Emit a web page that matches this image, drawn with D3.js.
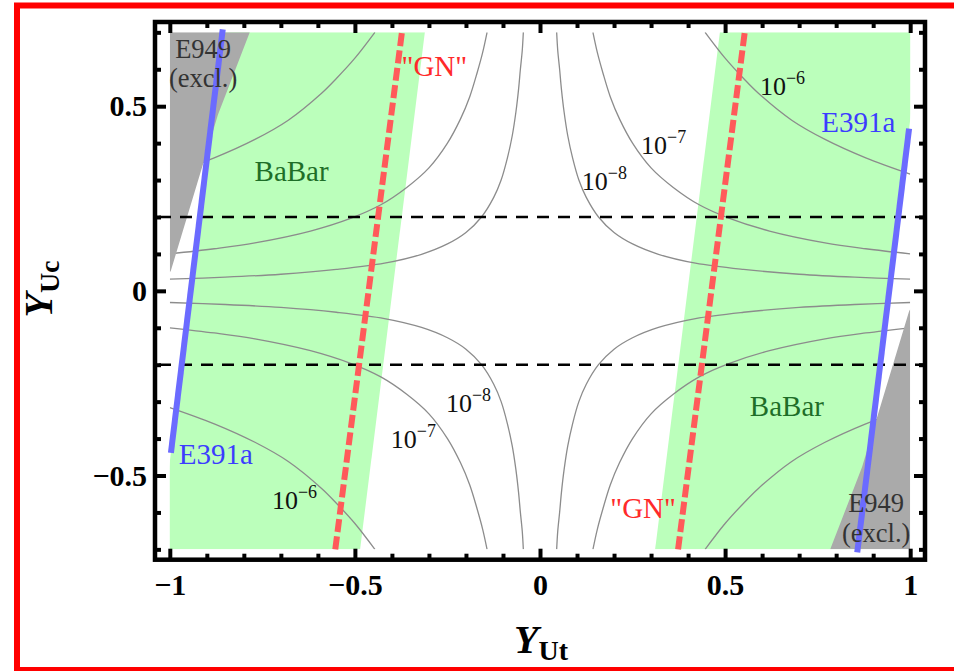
<!DOCTYPE html>
<html>
<head>
<meta charset="utf-8">
<script src="https://cdn.jsdelivr.net/npm/d3@7"></script>
<style>
  body { margin: 0; background: #fff; }
  svg { display: block; }
</style>
</head>
<body>
<svg id="chart" width="954" height="671"></svg>
<script>
// ---- axis ticks ----
const xMajor = [-1, -0.5, 0, 0.5, 1];
const xMajorLabels = ["\u22121", "\u22120.5", "0", "0.5", "1"];
const xMinor = [-0.9, -0.8, -0.7, -0.6, -0.4, -0.3, -0.2, -0.1, 0.1, 0.2, 0.3, 0.4, 0.6, 0.7, 0.8, 0.9];
const yMajor = [-0.5, 0, 0.5];
const yMajorLabels = ["\u22120.5", "0", "0.5"];
const yMinor = [-0.7, -0.6, -0.4, -0.3, -0.2, -0.1, 0.1, 0.2, 0.3, 0.4, 0.6, 0.7];

// ---- Br contours: points (|Y_Ut|, |Y_Uc|) along each level, same in all four quadrants ----
const contour1e6 = [[0.446, 0.70], [0.50, 0.63], [0.55, 0.575], [0.59, 0.535], [0.68, 0.462],
  [0.77, 0.41], [0.88, 0.36], [1.0, 0.316]];
const contour1e7 = [[0.143, 0.70], [0.155, 0.645], [0.17, 0.59], [0.19, 0.525], [0.215, 0.465],
  [0.25, 0.40], [0.30, 0.333], [0.36, 0.28], [0.43, 0.233], [0.51, 0.197], [0.62, 0.162],
  [0.77, 0.13], [0.88, 0.114], [1.0, 0.10]];
const contour1e8 = [[0.045, 0.70], [0.048, 0.65], [0.053, 0.60], [0.058, 0.545], [0.065, 0.485],
  [0.075, 0.42], [0.088, 0.36], [0.105, 0.30], [0.125, 0.253], [0.158, 0.20], [0.20, 0.158],
  [0.25, 0.127], [0.32, 0.099], [0.42, 0.075], [0.55, 0.058], [0.70, 0.045], [0.85, 0.037],
  [1.0, 0.0316]];
const quadrants = [[1, 1], [-1, 1], [-1, -1], [1, -1]];

// ---- constraint regions ----
const babarLeft = [[-1.029, -0.7], [-0.486, -0.7], [-0.311, 0.7], [-0.858, 0.7]];
const babarRight = [[1.029, 0.7], [0.486, 0.7], [0.311, -0.7], [0.858, -0.7]];
const e949Left = [[-1, 0.7], [-0.784, 0.7], [-0.870, 0.477], [-0.997, 0.055], [-1, 0.05]];
const e949Right = [[1, -0.7], [0.784, -0.7], [0.870, -0.477], [0.997, -0.055], [1, -0.05]];
const e391aLeft = [[-0.997, -0.439], [-0.857, 0.708]];
const e391aRight = [[0.857, -0.708], [0.997, 0.439]];
const gnLeft = [[-0.553, -0.7], [-0.373, 0.7]];
const gnRight = [[0.373, -0.7], [0.553, 0.7]];
const ucCuts = [-0.2, 0.2];

const svg = d3.select("#chart");
const serif = "'Liberation Serif', 'Times New Roman', serif";

// outer red border
svg.append("rect")
  .attr("x", 17).attr("y", 5.5).attr("width", 960).attr("height", 664.5)
  .attr("fill", "none").attr("stroke", "#ff0000").attr("stroke-width", 6);

const x = d3.scaleLinear().domain([-1.04, 1.04]).range([155, 925]);
const y = d3.scaleLinear().domain([-0.728, 0.728]).range([559.7, 22]);

svg.append("clipPath").attr("id", "plotArea")
  .append("rect")
  .attr("x", x(-1)).attr("y", y(0.7))
  .attr("width", x(1) - x(-1)).attr("height", y(-0.7) - y(0.7));

const line = d3.line().x(d => x(d[0])).y(d => y(d[1]));
const smooth = d3.line().x(d => x(d[0])).y(d => y(d[1])).curve(d3.curveCatmullRom.alpha(0.5));

const plotArea = svg.append("g").attr("clip-path", "url(#plotArea)");

// BaBar allowed bands
[babarLeft, babarRight].forEach(p => {
  plotArea.append("path").attr("d", line(p) + "Z").attr("fill", "#bbffbb");
});

// contour lines
[contour1e6, contour1e7, contour1e8].forEach(c => {
  quadrants.forEach(([sx, sy]) => {
    plotArea.append("path")
      .attr("d", smooth(c.map(([a, b]) => [sx * a, sy * b])))
      .attr("fill", "none").attr("stroke", "#8c8c8c").attr("stroke-width", 1.3);
  });
});

// E949 excluded corners
[e949Left, e949Right].forEach(p => {
  plotArea.append("path").attr("d", line(p) + "Z").attr("fill", "#aaaaaa");
});

// |Y_Uc| = 0.2 guides
ucCuts.forEach(v => {
  svg.append("line")
    .attr("x1", x(-1.04) + 4).attr("x2", x(1.04) - 2)
    .attr("y1", y(v)).attr("y2", y(v))
    .attr("stroke", "#000").attr("stroke-width", 2.5)
    .attr("stroke-dasharray", "12,9");
});

// E391a bounds
[e391aLeft, e391aRight].forEach(p => {
  svg.append("path").attr("d", line(p))
    .attr("fill", "none").attr("stroke", "#6b6bff").attr("stroke-width", 6);
});

// "GN" bounds
[gnLeft, gnRight].forEach(p => {
  svg.append("path").attr("d", line(p))
    .attr("fill", "none").attr("stroke", "#ff5a5a").attr("stroke-width", 6)
    .attr("stroke-dasharray", "13,4.5");
});

// region labels (a label may span two lines)
function label(tx, ty, lines, color, anchor, size, lead) {
  const t = svg.append("text")
    .attr("x", x(tx)).attr("y", y(ty))
    .attr("font-family", serif).attr("font-size", size || 29)
    .attr("fill", color).attr("text-anchor", anchor || "start");
  [].concat(lines).forEach((s, i) => {
    t.append("tspan").attr("x", x(tx)).attr("dy", i ? lead : 0).text(s);
  });
}
label(-0.910, 0.631, ["E949", "(excl.)"], "#333", "middle", 26.5, 29.5);
label(0.908, -0.599, ["E949", "(excl.)"], "#333", "middle", 26.5, 29.5);
label(-0.671, 0.297, "BaBar", "#1e6e28", "middle");
label(0.667, -0.340, "BaBar", "#1e6e28", "middle");
label(-0.976, -0.469, "E391a", "#3c3cff");
label(0.760, 0.430, "E391a", "#3c3cff");
label(-0.374, 0.582, "\"GN\"", "#ff2a2a");
label(0.190, -0.615, "\"GN\"", "#ff2a2a");

// contour level labels
const levelLabels = [
  [0.594, 0.530, "\u22126"], [0.273, 0.370, "\u22127"], [0.113, 0.273, "\u22128"],
  [-0.254, -0.327, "\u22128"], [-0.403, -0.426, "\u22127"], [-0.724, -0.591, "\u22126"]
];
levelLabels.forEach(([lx, ly, e]) => {
  const t = svg.append("text")
    .attr("x", x(lx)).attr("y", y(ly))
    .attr("font-family", serif).attr("font-size", 26).attr("fill", "#111");
  t.append("tspan").text("10");
  t.append("tspan").attr("dy", -11).attr("font-size", 18).text(e);
});

// frame ticks (inward on all four sides)
function styleAxis(g) {
  g.select(".domain").remove();
  g.selectAll(".tick line").attr("stroke", "#000").attr("stroke-width", 4);
}
const axBottom = svg.append("g").attr("transform", `translate(0,${y(-0.728)})`);
axBottom.append("g").call(d3.axisBottom(x).tickValues(xMinor).tickSize(-6).tickFormat("")).call(styleAxis);
const bMaj = axBottom.append("g").call(d3.axisBottom(x).tickValues(xMajor).tickSize(-11).tickPadding(14)
  .tickFormat((d, i) => xMajorLabels[i])).call(styleAxis);

const axTop = svg.append("g").attr("transform", `translate(0,${y(0.728)})`);
axTop.append("g").call(d3.axisTop(x).tickValues(xMinor).tickSize(-6).tickFormat("")).call(styleAxis);
axTop.append("g").call(d3.axisTop(x).tickValues(xMajor).tickSize(-11).tickFormat("")).call(styleAxis);

const axLeft = svg.append("g").attr("transform", `translate(${x(-1.04)},0)`);
axLeft.append("g").call(d3.axisLeft(y).tickValues(yMinor).tickSize(-6).tickFormat("")).call(styleAxis);
const lMaj = axLeft.append("g").call(d3.axisLeft(y).tickValues(yMajor).tickSize(-11).tickPadding(8)
  .tickFormat((d, i) => yMajorLabels[i])).call(styleAxis);

const axRight = svg.append("g").attr("transform", `translate(${x(1.04)},0)`);
axRight.append("g").call(d3.axisRight(y).tickValues(yMinor).tickSize(-6).tickFormat("")).call(styleAxis);
axRight.append("g").call(d3.axisRight(y).tickValues(yMajor).tickSize(-11).tickFormat("")).call(styleAxis);

[bMaj, lMaj].forEach(g => g.selectAll(".tick text")
  .attr("font-family", serif).attr("font-size", 30).attr("font-weight", "bold").attr("fill", "#000"));

// frame
svg.append("rect")
  .attr("x", x(-1.04)).attr("y", y(0.728))
  .attr("width", x(1.04) - x(-1.04)).attr("height", y(-0.728) - y(0.728))
  .attr("fill", "none").attr("stroke", "#000").attr("stroke-width", 4.5);

// axis titles
function title(g, sub) {
  const t = g.append("text").attr("text-anchor", "middle")
    .attr("font-family", serif).attr("font-weight", "bold").attr("fill", "#000");
  t.append("tspan").attr("font-size", 40).attr("font-style", "italic").text("Y");
  t.append("tspan").attr("font-size", 28).attr("dy", 7).text(sub);
}
title(svg.append("g").attr("transform", "translate(541,653)"), "Ut");
title(svg.append("g").attr("transform", "translate(52,289) rotate(-90)"), "Uc");
</script>
</body>
</html>
